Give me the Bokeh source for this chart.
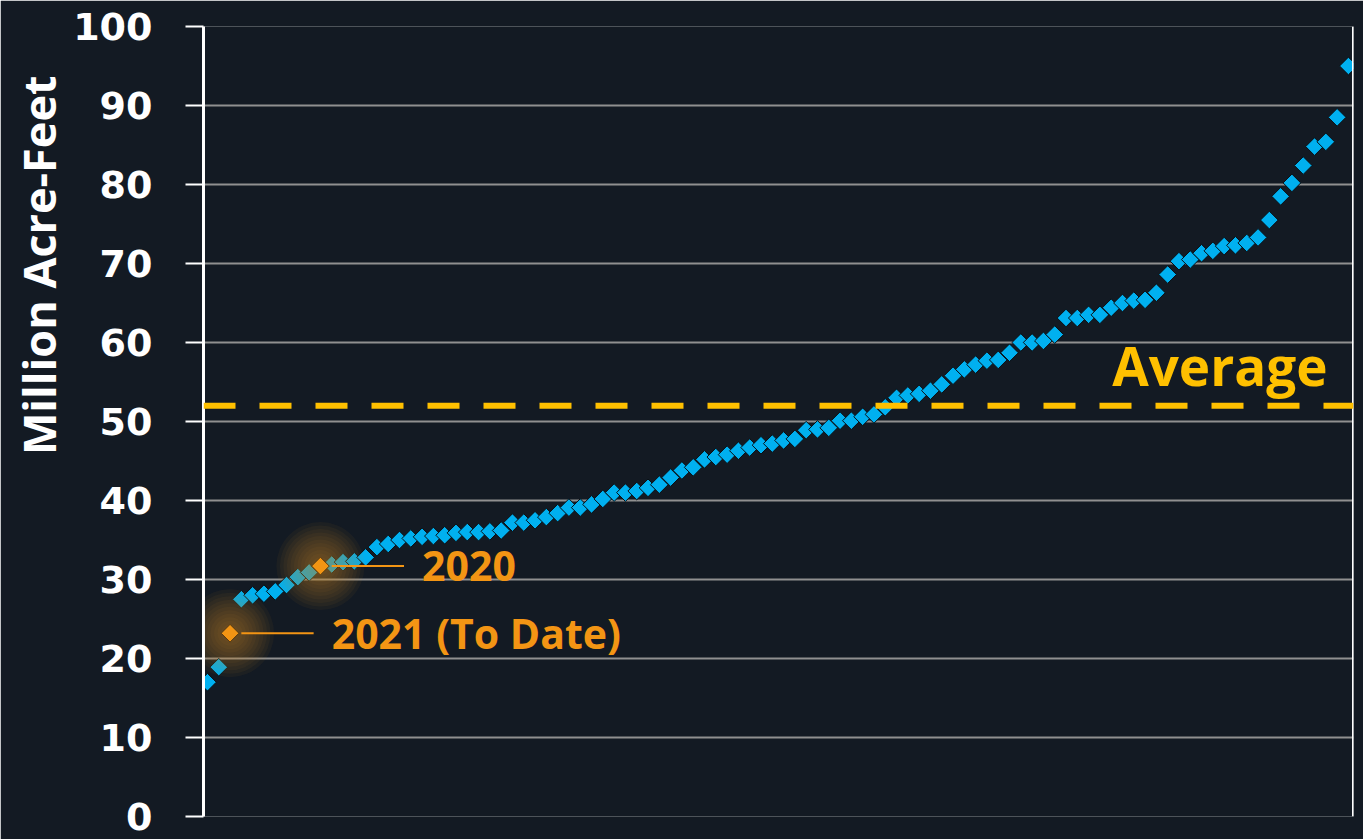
import numpy as np
from bokeh.plotting import figure
from bokeh.models import Span, Label, Range1d, Title
from bokeh.core.properties import value
from bokeh.embed import file_html
from bokeh.resources import INLINE

# ranked annual values (million acre-feet), lowest to highest
values = [17.0, 18.9, 23.2, 27.5, 28.0, 28.2, 28.5, 29.3, 30.3, 30.9,
          31.7, 31.9, 32.2, 32.3, 32.8, 34.1, 34.5, 35.0, 35.2, 35.4,
          35.5, 35.6, 35.9, 36.0, 36.0, 36.1, 36.2, 37.2, 37.2, 37.5,
          37.9, 38.4, 39.1, 39.1, 39.5, 40.2, 41.0, 41.0, 41.2, 41.6,
          42.0, 42.9, 43.8, 44.2, 45.2, 45.5, 45.8, 46.3, 46.7, 47.0,
          47.2, 47.6, 47.8, 48.9, 49.0, 49.2, 50.1, 50.1, 50.6, 50.9,
          51.8, 53.0, 53.3, 53.5, 53.9, 54.7, 55.8, 56.6, 57.2, 57.7,
          57.8, 58.7, 60.0, 60.0, 60.2, 61.0, 63.1, 63.1, 63.5, 63.5,
          64.4, 65.0, 65.3, 65.4, 66.3, 68.6, 70.3, 70.5, 71.3, 71.6,
          72.2, 72.3, 72.6, 73.3, 75.5, 78.5, 80.2, 82.4, 84.8, 85.4,
          88.5, 95.0]
highlight_labels = ["2021 (To Date)", "2020"]
highlight_rank = [3, 11]          # 1-based rank positions
average = 52.0
y_ticks = [0, 10, 20, 30, 40, 50, 60, 70, 80, 90, 100]

ranks = list(range(1, len(values) + 1))
hx = highlight_rank
hy = [values[r - 1] for r in highlight_rank]

BG = "#131a23"
BLUE = "#00b0f0"
ORANGE = "#f39514"
GOLD = "#ffc000"

FRAME_H = 790
p = figure(frame_width=1150, frame_height=FRAME_H,
           x_range=Range1d(0.65, len(values) + 0.45), y_range=Range1d(0, 100),
           min_border_left=203, min_border_right=10, min_border_top=26, min_border_bottom=23,
           output_backend="svg", toolbar_location=None)
p.background_fill_color = BG
p.border_fill_color = BG
p.outline_line_color = None

p.xaxis.visible = False
p.xgrid.visible = False
p.ygrid.ticker = y_ticks
p.ygrid.grid_line_color = "#909090"
p.ygrid.grid_line_width = 2

ax = p.yaxis[0]
ax.ticker = y_ticks
ax.axis_line_color = "white"
ax.axis_line_width = 3
ax.major_tick_line_color = "white"
ax.major_tick_line_width = 2
ax.major_tick_out = 18
ax.major_tick_in = 0
ax.minor_tick_line_color = None
ax.major_label_text_font = "DejaVu Sans"
ax.major_label_text_font_style = "bold"
ax.major_label_text_font_size = "38px"
ax.major_label_text_color = "white"
ax.major_label_standoff = 33

# axis title, placed toward the top on the left like the reference
p.add_layout(Title(text="Million Acre-Feet", align="right", offset=49, standoff=4,
                   text_font="Open Sans", text_font_style="bold",
                   text_font_size="45px", text_color="white"), "left")

# right border line
p.add_layout(Span(location=len(values) + 0.45, dimension="height",
                  line_color="white", line_width=3))

# average line
p.add_layout(Span(location=average, dimension="width", line_color=GOLD,
                  line_width=6, line_dash="32 24"))
p.add_layout(Label(x=len(values) + 0.45, y=average, x_offset=-26, y_offset=40,
                   text="Average", text_align="right", text_baseline="middle",
                   text_font="Open Sans", text_font_style="bold",
                   text_font_size="53px", text_color=GOLD))

# all points
p.scatter(ranks, values, marker="square", angle=np.pi / 4, size=12.5,
          fill_color=BLUE, line_color="#0a0f14", line_width=1)

# soft glow around highlighted points
for s in range(88, 14, -7):
    p.scatter(hx, hy, marker="circle", size=s, fill_color="#c8901a",
              fill_alpha=0.06, line_color=None)

p.scatter(hx, hy, marker="square", angle=np.pi / 4, size=12.5,
          fill_color=ORANGE, line_color="#5a3a10", line_width=1)

# leader lines and labels
p.segment(x0=[x + 1.0 for x in hx], y0=hy, x1=[x + 7.4 for x in hx], y1=hy,
          line_color=ORANGE, line_width=2)
p.text(x=[x + 9.0 for x in hx], y=hy, text=highlight_labels,
       text_baseline="middle", text_align="left",
       text_font=value("Open Sans"), text_font_style="bold",
       text_font_size="41px", text_color=ORANGE)

open("out.html", "w").write(file_html(p, INLINE))
